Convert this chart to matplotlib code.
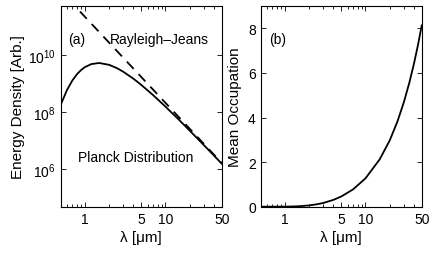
import matplotlib
matplotlib.use("Agg")
import matplotlib.pyplot as plt
from matplotlib.ticker import FixedLocator, NullFormatter, LogFormatterMathtext

plt.rcParams["font.family"] = ["Liberation Sans", "DejaVu Sans"]
plt.rcParams["mathtext.default"] = "regular"
plt.rcParams["font.size"] = 10

# Wavelength samples (um)
lam = [0.5, 0.6, 0.7, 0.8, 0.9, 1, 1.2, 1.5, 2, 2.5, 3, 4, 5, 7, 10,
       15, 20, 25, 30, 35, 40, 45, 50]

# (a) Planck energy density [arb.]
planck = [1.79e8, 5.96e8, 1.28e9, 2.12e9, 2.96e9, 3.70e9, 4.71e9, 5.15e9,
          4.44e9, 3.40e9, 2.54e9, 1.46e9, 8.91e8, 3.94e8, 1.55e8, 5.11e7,
          2.26e7, 1.19e7, 7.05e6, 4.51e6, 3.05e6, 2.16e6, 1.58e6]

# (a) Rayleigh-Jeans straight line
rj_lam = [0.5, 1, 5, 10, 50]
rj = [1.68e12, 2.10e11, 1.68e9, 2.10e8, 1.68e6]

# (b) mean occupation
occupation = [0.00001, 0.00006, 0.00025, 0.0007, 0.0016, 0.0030, 0.0080,
              0.021, 0.058, 0.109, 0.169, 0.306, 0.457, 0.775, 1.27, 2.12,
              2.97, 3.83, 4.69, 5.55, 6.41, 7.27, 8.13]

x_ticks = [1, 5, 10, 50]
x_minor = [0.5, 0.6, 0.7, 0.8, 0.9, 2, 3, 4, 6, 7, 8, 9, 20, 30, 40]


def style_axis(ax):
    ax.set_xscale("log")
    ax.set_xlim(0.5, 50)
    ax.xaxis.set_major_locator(FixedLocator(x_ticks))
    ax.xaxis.set_minor_locator(FixedLocator(x_minor))
    ax.set_xticklabels([str(t) for t in x_ticks])
    ax.xaxis.set_minor_formatter(NullFormatter())
    ax.tick_params(which="both", direction="in", top=True, right=True, width=0.6)
    ax.tick_params(which="major", length=3.5, labelsize=10)
    ax.tick_params(which="minor", length=2)
    for s in ax.spines.values():
        s.set_linewidth(0.8)
    ax.set_xlabel("λ [μm]", fontsize=11, labelpad=3)


fig = plt.figure(figsize=(4.36, 2.55), dpi=100)

ax1 = fig.add_axes([0.1392, 0.1855, 0.3693, 0.787])
ax1.plot(lam, planck, color="black", lw=1.3)
ax1.plot(rj_lam, rj, color="black", lw=1.3, linestyle=(0, (5.5, 4)))
style_axis(ax1)
ax1.set_yscale("log")
ax1.set_ylim(5e4, 5e11)
ax1.yaxis.set_major_locator(FixedLocator([1e6, 1e8, 1e10]))
ax1.yaxis.set_major_formatter(LogFormatterMathtext())
ax1.yaxis.set_minor_locator(FixedLocator([]))
ax1.set_ylabel("Energy Density [Arb.]", fontsize=11, labelpad=2)
ax1.text(0.045, 0.836, "(a)", transform=ax1.transAxes, va="center")
ax1.text(0.306, 0.836, "Rayleigh–Jeans", transform=ax1.transAxes, va="center")
ax1.text(0.106, 0.248, "Planck Distribution", transform=ax1.transAxes, va="center")

ax2 = fig.add_axes([0.598, 0.1855, 0.3693, 0.787])
ax2.plot(lam, occupation, color="black", lw=1.3)
style_axis(ax2)
ax2.set_ylim(0, 9)
ax2.set_yticks([0, 2, 4, 6, 8])
ax2.set_ylabel("Mean Occupation", fontsize=11, labelpad=4)
ax2.text(0.053, 0.836, "(b)", transform=ax2.transAxes, va="center")

fig.savefig("out.png", dpi=100)
